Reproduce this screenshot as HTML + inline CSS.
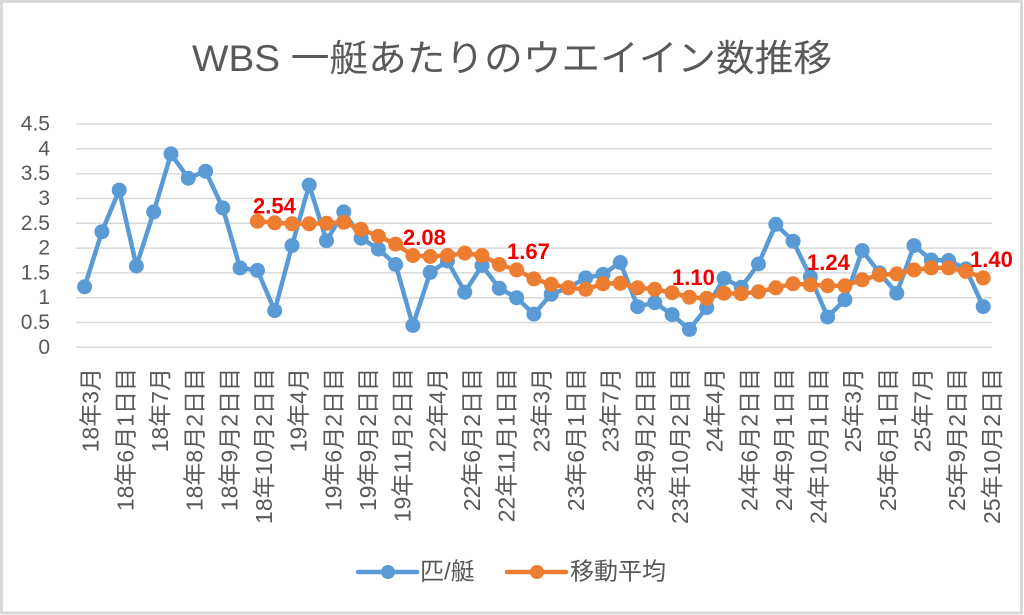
<!DOCTYPE html>
<html><head><meta charset="utf-8"><style>
html,body{margin:0;padding:0;background:#fff;}
svg{display:block;}
text{font-family:"Liberation Sans","Noto Sans CJK JP",sans-serif;}
</style></head><body>
<svg width="1024" height="615" viewBox="0 0 1024 615" xmlns="http://www.w3.org/2000/svg">
<rect x="0" y="0" width="1024" height="615" fill="#fff"/>
<rect x="1.5" y="1.5" width="1020" height="611.5" fill="none" stroke="#d9d9d9" stroke-width="3"/>
<text x="192" y="71" font-size="37" fill="#595959" textLength="640" lengthAdjust="spacingAndGlyphs">WBS 一艇あたりのウエイイン数推移</text>
<g stroke="#d9d9d9" stroke-width="1.5">
<line x1="76" x2="992" y1="347.3" y2="347.3"/>
<line x1="76" x2="992" y1="322.5" y2="322.5"/>
<line x1="76" x2="992" y1="297.7" y2="297.7"/>
<line x1="76" x2="992" y1="272.9" y2="272.9"/>
<line x1="76" x2="992" y1="248.1" y2="248.1"/>
<line x1="76" x2="992" y1="223.3" y2="223.3"/>
<line x1="76" x2="992" y1="198.5" y2="198.5"/>
<line x1="76" x2="992" y1="173.7" y2="173.7"/>
<line x1="76" x2="992" y1="148.9" y2="148.9"/>
<line x1="76" x2="992" y1="124.1" y2="124.1"/>
</g>
<g font-size="21" fill="#595959" text-anchor="end" dominant-baseline="central">
<text x="50" y="347.3">0</text>
<text x="50" y="322.5">0.5</text>
<text x="50" y="297.7">1</text>
<text x="50" y="272.9">1.5</text>
<text x="50" y="248.1">2</text>
<text x="50" y="223.3">2.5</text>
<text x="50" y="198.5">3</text>
<text x="50" y="173.7">3.5</text>
<text x="50" y="148.9">4</text>
<text x="50" y="124.1">4.5</text>
</g>
<g font-size="23" fill="#595959" text-anchor="end" dominant-baseline="central">
<text transform="translate(90.7,368) rotate(-90)">18年3月</text>
<text transform="translate(125.4,368) rotate(-90)">18年6月1日目</text>
<text transform="translate(160.0,368) rotate(-90)">18年7月</text>
<text transform="translate(194.7,368) rotate(-90)">18年8月2日目</text>
<text transform="translate(229.3,368) rotate(-90)">18年9月2日目</text>
<text transform="translate(264.0,368) rotate(-90)">18年10月2日目</text>
<text transform="translate(298.7,368) rotate(-90)">19年4月</text>
<text transform="translate(333.3,368) rotate(-90)">19年6月2日目</text>
<text transform="translate(368.0,368) rotate(-90)">19年9月2日目</text>
<text transform="translate(402.6,368) rotate(-90)">19年11月2日目</text>
<text transform="translate(437.3,368) rotate(-90)">22年4月</text>
<text transform="translate(472.0,368) rotate(-90)">22年6月2日目</text>
<text transform="translate(506.6,368) rotate(-90)">22年11月1日目</text>
<text transform="translate(541.3,368) rotate(-90)">23年3月</text>
<text transform="translate(575.9,368) rotate(-90)">23年6月1日目</text>
<text transform="translate(610.6,368) rotate(-90)">23年7月</text>
<text transform="translate(645.3,368) rotate(-90)">23年9月2日目</text>
<text transform="translate(679.9,368) rotate(-90)">23年10月2日目</text>
<text transform="translate(714.6,368) rotate(-90)">24年4月</text>
<text transform="translate(749.3,368) rotate(-90)">24年6月2日目</text>
<text transform="translate(783.9,368) rotate(-90)">24年9月1日目</text>
<text transform="translate(818.6,368) rotate(-90)">24年10月1日目</text>
<text transform="translate(853.2,368) rotate(-90)">25年3月</text>
<text transform="translate(887.9,368) rotate(-90)">25年6月1日目</text>
<text transform="translate(922.5,368) rotate(-90)">25年7月</text>
<text transform="translate(957.2,368) rotate(-90)">25年9月2日目</text>
<text transform="translate(991.9,368) rotate(-90)">25年10月2日目</text>
</g>
<!-- blue series -->
<polyline fill="none" stroke="#5B9BD5" stroke-width="4.5" stroke-linejoin="round" stroke-linecap="round" points="84.6,286.8 101.9,231.7 119.2,190.1 136.4,266.0 153.7,211.9 171.0,153.9 188.3,178.2 205.6,171.2 222.8,207.9 240.1,267.9 257.4,270.4 274.7,310.6 292.0,245.6 309.2,185.1 326.5,240.7 343.8,211.9 361.1,238.2 378.4,249.1 395.6,264.5 412.9,325.5 430.2,272.4 447.5,261.0 464.8,292.2 482.0,265.5 499.3,288.3 516.6,297.7 533.9,314.1 551.2,294.2 568.4,287.8 585.7,277.9 603.0,274.4 620.3,262.5 637.6,306.6 654.8,302.7 672.1,314.6 689.4,329.4 706.7,307.6 724.0,278.4 741.2,287.3 758.5,264.0 775.8,224.3 793.1,241.2 810.4,276.9 827.6,317.0 844.9,299.7 862.2,250.6 879.5,272.9 896.8,293.2 914.0,245.6 931.3,260.0 948.6,260.5 965.9,268.9 983.2,306.6"/>
<g fill="#5B9BD5">
<circle cx="84.6" cy="286.8" r="7.5"/><circle cx="101.9" cy="231.7" r="7.5"/><circle cx="119.2" cy="190.1" r="7.5"/><circle cx="136.4" cy="266.0" r="7.5"/><circle cx="153.7" cy="211.9" r="7.5"/><circle cx="171.0" cy="153.9" r="7.5"/><circle cx="188.3" cy="178.2" r="7.5"/><circle cx="205.6" cy="171.2" r="7.5"/><circle cx="222.8" cy="207.9" r="7.5"/><circle cx="240.1" cy="267.9" r="7.5"/><circle cx="257.4" cy="270.4" r="7.5"/><circle cx="274.7" cy="310.6" r="7.5"/><circle cx="292.0" cy="245.6" r="7.5"/><circle cx="309.2" cy="185.1" r="7.5"/><circle cx="326.5" cy="240.7" r="7.5"/><circle cx="343.8" cy="211.9" r="7.5"/><circle cx="361.1" cy="238.2" r="7.5"/><circle cx="378.4" cy="249.1" r="7.5"/><circle cx="395.6" cy="264.5" r="7.5"/><circle cx="412.9" cy="325.5" r="7.5"/><circle cx="430.2" cy="272.4" r="7.5"/><circle cx="447.5" cy="261.0" r="7.5"/><circle cx="464.8" cy="292.2" r="7.5"/><circle cx="482.0" cy="265.5" r="7.5"/><circle cx="499.3" cy="288.3" r="7.5"/><circle cx="516.6" cy="297.7" r="7.5"/><circle cx="533.9" cy="314.1" r="7.5"/><circle cx="551.2" cy="294.2" r="7.5"/><circle cx="568.4" cy="287.8" r="7.5"/><circle cx="585.7" cy="277.9" r="7.5"/><circle cx="603.0" cy="274.4" r="7.5"/><circle cx="620.3" cy="262.5" r="7.5"/><circle cx="637.6" cy="306.6" r="7.5"/><circle cx="654.8" cy="302.7" r="7.5"/><circle cx="672.1" cy="314.6" r="7.5"/><circle cx="689.4" cy="329.4" r="7.5"/><circle cx="706.7" cy="307.6" r="7.5"/><circle cx="724.0" cy="278.4" r="7.5"/><circle cx="741.2" cy="287.3" r="7.5"/><circle cx="758.5" cy="264.0" r="7.5"/><circle cx="775.8" cy="224.3" r="7.5"/><circle cx="793.1" cy="241.2" r="7.5"/><circle cx="810.4" cy="276.9" r="7.5"/><circle cx="827.6" cy="317.0" r="7.5"/><circle cx="844.9" cy="299.7" r="7.5"/><circle cx="862.2" cy="250.6" r="7.5"/><circle cx="879.5" cy="272.9" r="7.5"/><circle cx="896.8" cy="293.2" r="7.5"/><circle cx="914.0" cy="245.6" r="7.5"/><circle cx="931.3" cy="260.0" r="7.5"/><circle cx="948.6" cy="260.5" r="7.5"/><circle cx="965.9" cy="268.9" r="7.5"/><circle cx="983.2" cy="306.6" r="7.5"/>
</g>
<!-- orange series -->
<polyline fill="none" stroke="#ED7D31" stroke-width="4.5" stroke-linejoin="round" stroke-linecap="round" points="257.4,221.3 274.7,222.8 292.0,223.8 309.2,223.8 326.5,223.3 343.8,222.3 361.1,229.3 378.4,236.2 395.6,244.1 412.9,255.5 430.2,256.5 447.5,255.5 464.8,253.1 482.0,255.5 499.3,264.5 516.6,269.9 533.9,278.9 551.2,284.3 568.4,287.8 585.7,289.3 603.0,283.8 620.3,283.3 637.6,287.8 654.8,289.3 672.1,292.7 689.4,297.2 706.7,298.2 724.0,293.2 741.2,293.7 758.5,291.7 775.8,287.8 793.1,283.8 810.4,284.8 827.6,285.8 844.9,285.8 862.2,279.8 879.5,274.9 896.8,273.9 914.0,269.9 931.3,267.9 948.6,267.9 965.9,271.4 983.2,277.9"/>
<g fill="#ED7D31">
<circle cx="257.4" cy="221.3" r="7.5"/><circle cx="274.7" cy="222.8" r="7.5"/><circle cx="292.0" cy="223.8" r="7.5"/><circle cx="309.2" cy="223.8" r="7.5"/><circle cx="326.5" cy="223.3" r="7.5"/><circle cx="343.8" cy="222.3" r="7.5"/><circle cx="361.1" cy="229.3" r="7.5"/><circle cx="378.4" cy="236.2" r="7.5"/><circle cx="395.6" cy="244.1" r="7.5"/><circle cx="412.9" cy="255.5" r="7.5"/><circle cx="430.2" cy="256.5" r="7.5"/><circle cx="447.5" cy="255.5" r="7.5"/><circle cx="464.8" cy="253.1" r="7.5"/><circle cx="482.0" cy="255.5" r="7.5"/><circle cx="499.3" cy="264.5" r="7.5"/><circle cx="516.6" cy="269.9" r="7.5"/><circle cx="533.9" cy="278.9" r="7.5"/><circle cx="551.2" cy="284.3" r="7.5"/><circle cx="568.4" cy="287.8" r="7.5"/><circle cx="585.7" cy="289.3" r="7.5"/><circle cx="603.0" cy="283.8" r="7.5"/><circle cx="620.3" cy="283.3" r="7.5"/><circle cx="637.6" cy="287.8" r="7.5"/><circle cx="654.8" cy="289.3" r="7.5"/><circle cx="672.1" cy="292.7" r="7.5"/><circle cx="689.4" cy="297.2" r="7.5"/><circle cx="706.7" cy="298.2" r="7.5"/><circle cx="724.0" cy="293.2" r="7.5"/><circle cx="741.2" cy="293.7" r="7.5"/><circle cx="758.5" cy="291.7" r="7.5"/><circle cx="775.8" cy="287.8" r="7.5"/><circle cx="793.1" cy="283.8" r="7.5"/><circle cx="810.4" cy="284.8" r="7.5"/><circle cx="827.6" cy="285.8" r="7.5"/><circle cx="844.9" cy="285.8" r="7.5"/><circle cx="862.2" cy="279.8" r="7.5"/><circle cx="879.5" cy="274.9" r="7.5"/><circle cx="896.8" cy="273.9" r="7.5"/><circle cx="914.0" cy="269.9" r="7.5"/><circle cx="931.3" cy="267.9" r="7.5"/><circle cx="948.6" cy="267.9" r="7.5"/><circle cx="965.9" cy="271.4" r="7.5"/><circle cx="983.2" cy="277.9" r="7.5"/>
</g>
<!-- data labels -->
<g font-size="22" font-weight="bold" fill="#EE0000">
<text x="253" y="213.5">2.54</text>
<text x="403" y="245">2.08</text>
<text x="507" y="259">1.67</text>
<text x="672" y="285">1.10</text>
<text x="807" y="270">1.24</text>
<text x="970" y="267">1.40</text>
</g>
<!-- legend -->
<line x1="358" y1="572" x2="417" y2="572" stroke="#5B9BD5" stroke-width="4.5" stroke-linecap="round"/>
<circle cx="388" cy="572" r="7" fill="#5B9BD5"/>
<text x="420" y="572" font-size="24" fill="#595959" dominant-baseline="central">匹/艇</text>
<line x1="507" y1="572" x2="566" y2="572" stroke="#ED7D31" stroke-width="4.5" stroke-linecap="round"/>
<circle cx="537" cy="572" r="7" fill="#ED7D31"/>
<text x="570" y="572" font-size="24" fill="#595959" dominant-baseline="central">移動平均</text>
</svg>
</body></html>
